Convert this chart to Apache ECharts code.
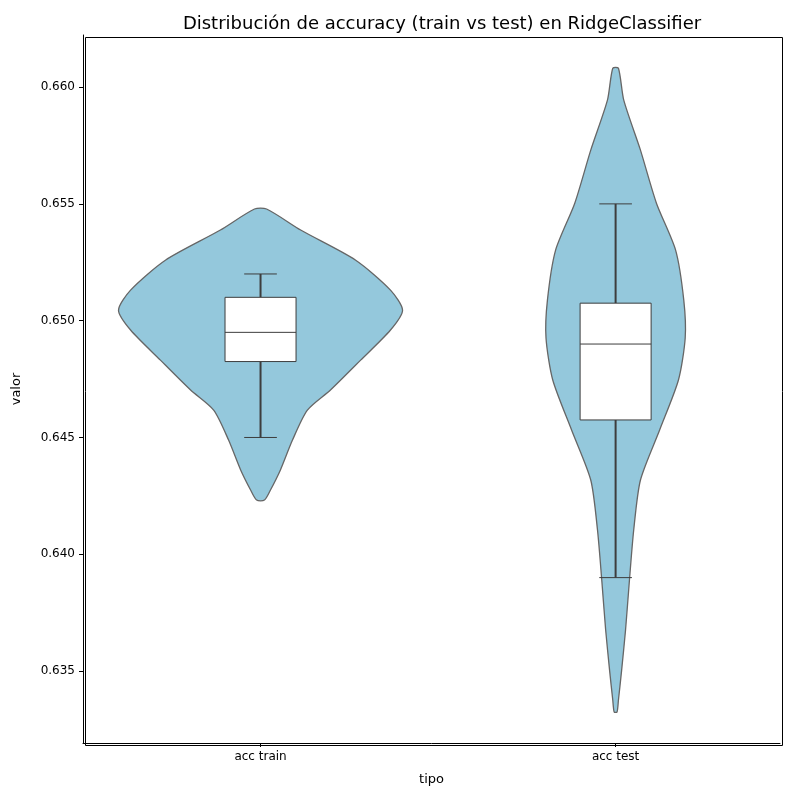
<!DOCTYPE html>
<html><head><meta charset="utf-8">
<script src="https://cdn.jsdelivr.net/npm/echarts@6/dist/echarts.min.js"></script>
<style>html,body{margin:0;padding:0;background:#fff}#c{width:802px;height:795px}</style>
</head><body><div id="c"></div>
<script>
var categories = ['acc train', 'acc test'];
// violin outline: value levels and half widths (x units)
var trainLevels = [0.65478, 0.65388, 0.65259, 0.65131, 0.65045, 0.64960, 0.64831, 0.64703, 0.64617, 0.64489, 0.64361, 0.64275, 0.64232];
var trainHalf   = [0.017, 0.113, 0.268, 0.366, 0.400, 0.366, 0.282, 0.197, 0.132, 0.090, 0.056, 0.028, 0.011];
var testLevels = [0.66081, 0.65944, 0.65730, 0.65503, 0.65302, 0.65088, 0.64926, 0.64746, 0.64532, 0.64318, 0.64104, 0.63890, 0.63676, 0.63504, 0.63376, 0.63325];
var testHalf   = [0.008, 0.023, 0.070, 0.115, 0.169, 0.192, 0.196, 0.177, 0.124, 0.070, 0.051, 0.039, 0.028, 0.017, 0.008, 0.004];
// box stats: [low whisker, q1, median, q3, high whisker]
var trainBox = [0.645, 0.64825, 0.6495, 0.651, 0.652];
var testBox = [0.639, 0.64575, 0.649, 0.65075, 0.655];
var yTicks = [0.635, 0.640, 0.645, 0.650, 0.655, 0.660];

var violins = [[trainLevels, trainHalf], [testLevels, testHalf]];
var boxes = [trainBox, testBox];
var BOXW = 0.1, CAPW = 0.046;

var chart = echarts.init(document.getElementById('c'));
function violinItem(params, api) {
  var i = params.dataIndex, lv = violins[i][0], hw = violins[i][1], pts = [];
  for (var k = 0; k < lv.length; k++) pts.push(api.coord([i + hw[k], lv[k]]));
  for (var k = lv.length - 1; k >= 0; k--) pts.push(api.coord([i - hw[k], lv[k]]));
  return { type: 'polygon', shape: { points: pts, smooth: 0.25 },
    style: { fill: '#94c8dc', stroke: '#666666', lineWidth: 1.3 } };
}
function boxItem(params, api) {
  var i = params.dataIndex, b = boxes[i];
  var ln = { stroke: '#3d3d3d', lineWidth: 2 };
  var c = function (x, y) { return api.coord([x, y]); };
  var p1 = c(i - BOXW, b[3]), p2 = c(i + BOXW, b[1]);
  return { type: 'group', children: [
    { type: 'line', shape: { x1: c(i, b[0])[0], y1: c(i, b[0])[1], x2: c(i, b[1])[0], y2: c(i, b[1])[1] }, style: ln },
    { type: 'line', shape: { x1: c(i, b[3])[0], y1: c(i, b[3])[1], x2: c(i, b[4])[0], y2: c(i, b[4])[1] }, style: ln },
    { type: 'line', shape: { x1: c(i - CAPW, b[0])[0], y1: c(i, b[0])[1], x2: c(i + CAPW, b[0])[0], y2: c(i, b[0])[1] }, style: { stroke: '#3d3d3d', lineWidth: 1 } },
    { type: 'line', shape: { x1: c(i - CAPW, b[4])[0], y1: c(i, b[4])[1], x2: c(i + CAPW, b[4])[0], y2: c(i, b[4])[1] }, style: { stroke: '#3d3d3d', lineWidth: 1 } },
    { type: 'rect', shape: { x: p1[0], y: p1[1], width: p2[0] - p1[0], height: p2[1] - p1[1] }, style: { fill: '#fff', stroke: '#3d3d3d', lineWidth: 1 } },
    { type: 'line', shape: { x1: p1[0], y1: c(i, b[2])[1], x2: p2[0], y2: c(i, b[2])[1] }, style: { stroke: '#3d3d3d', lineWidth: 1 } }
  ]};
}
chart.setOption({
  animation: false,
  title: { text: 'Distribución de accuracy (train vs test) en RidgeClassifier', left: 437, top: 10, textAlign: 'center',
    textStyle: { fontFamily: 'DejaVu Sans', fontSize: 18, fontWeight: 'normal', color: '#000' } },
  grid: { left: 83, right: 22, top: 35, bottom: 52 },
  xAxis: { type: 'value', min: -0.5, max: 1.463, interval: 0.5, name: 'tipo', nameLocation: 'middle', nameGap: 30,
    nameTextStyle: { fontFamily: 'DejaVu Sans', fontSize: 13, color: '#000' },
    splitLine: { show: false },
    axisLine: { show: true, onZero: false, lineStyle: { color: '#000' } },
    axisTick: { show: true, customValues: [0, 1], length: 4, lineStyle: { color: '#000' } },
    axisLabel: { customValues: [0, 1], formatter: function (v) { return categories[Math.round(v)]; },
      fontFamily: 'DejaVu Sans', fontSize: 12, color: '#000', margin: 8 } },
  yAxis: { type: 'value', min: 0.63192, max: 0.66223, name: 'valor', nameLocation: 'middle', nameGap: 60,
    nameTextStyle: { fontFamily: 'DejaVu Sans', fontSize: 13, color: '#000' },
    splitLine: { show: false },
    axisLine: { show: true, onZero: false, lineStyle: { color: '#000' } },
    axisTick: { show: true, customValues: yTicks, length: 4, lineStyle: { color: '#000' } },
    axisLabel: { customValues: yTicks, formatter: function (v) { return v.toFixed(3); },
      fontFamily: 'DejaVu Sans', fontSize: 12, color: '#000' } },
  graphic: [{ type: 'rect', left: 83, top: 35, shape: { width: 697, height: 708 }, silent: true,
    style: { fill: 'none', stroke: '#000', lineWidth: 1 }, z: 100 }],
  series: [
    { type: 'custom', renderItem: violinItem, data: [0, 1] },
    { type: 'custom', renderItem: boxItem, data: [0, 1], z: 3 }
  ]
});
</script></body></html>
